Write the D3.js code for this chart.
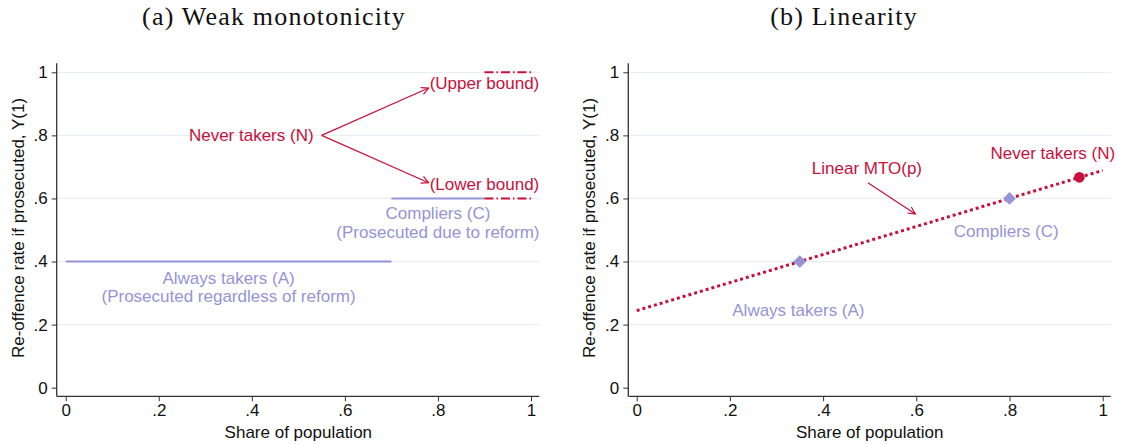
<!DOCTYPE html>
<html>
<head>
<meta charset="utf-8">
<script src="https://cdn.jsdelivr.net/npm/d3@7/dist/d3.min.js"></script>
<style>
  html, body { margin: 0; padding: 0; background: #fff; }
  svg { display: block; }
  text { font-family: "Liberation Sans", Arial, sans-serif; }
  text.title { font-family: "Liberation Serif", "DejaVu Serif", serif; letter-spacing: 1.2px; }
</style>
</head>
<body>
<svg id="chart" width="1122" height="444"></svg>
<script>
// Shared tick values for both panels
const xTicks = [0, 0.2, 0.4, 0.6, 0.8, 1];
const yTicks = [0, 0.2, 0.4, 0.6, 0.8, 1];
const gridTicks = [0.2, 0.4, 0.6, 0.8, 1];

// Panel (a): weak monotonicity — segments [x0, x1, y]
const alwaysSeg = [0, 0.7, 0.4];
const compliersSeg = [0.7, 0.9, 0.6];
const neverUpperSeg = [0.9, 1.0, 1.0];
const neverLowerSeg = [0.9, 1.0, 0.6];
// arrows from the "Never takers" label: [x0, y0, x1, y1]
const arrowUpper = [0.55, 0.8, 0.78, 0.95];
const arrowLower = [0.55, 0.8, 0.78, 0.65];

// Panel (b): linearity
const groupShares = [0.35, 0.8];       // always takers, compliers
const groupRates = [0.4, 0.6];
const neverShare = 0.95;
const neverRate = 0.667;
const mtoLine = [[0, 0.2444], [1, 0.6889]];
const arrowMTO = [0.496, 0.65, 0.598, 0.551];

const RED = "#c8103c";
const LAV = "#9693d8";
const GRID = "#e6eff1";
const FS = 17;

const svg = d3.select("#chart");
const defs = svg.append("defs");
defs.append("marker")
  .attr("id", "arrow")
  .attr("viewBox", "0 0 10 10")
  .attr("refX", 9).attr("refY", 5)
  .attr("markerWidth", 9).attr("markerHeight", 9)
  .attr("markerUnits", "userSpaceOnUse")
  .attr("orient", "auto")
  .append("path")
  .attr("d", "M1,1 L9,5 L1,9")
  .attr("fill", "none")
  .attr("stroke", RED)
  .attr("stroke-width", 1.3);

const fmt = d => d === 0 ? "0" : d === 1 ? "1" : String(d).replace(/^0/, "");

function panel(opt) {
  const g = svg.append("g");
  const x = d3.scaleLinear().domain([0, 1]).range(opt.xRange);
  const y = d3.scaleLinear().domain([0, 1]).range([387.7, 72.3]);

  // gridlines
  g.selectAll(".grid").data(gridTicks).join("line")
    .attr("x1", opt.axisX).attr("x2", opt.rightEdge)
    .attr("y1", d => y(d)).attr("y2", d => y(d))
    .attr("stroke", GRID).attr("stroke-width", 1.2);

  // y axis
  const ya = g.append("g").attr("transform", `translate(${opt.axisX},0)`)
    .call(d3.axisLeft(y).tickValues(yTicks).tickFormat(fmt).tickSize(5).tickPadding(4));
  ya.select(".domain").attr("d", `M0,${63.3}V${396.3}`).attr("stroke", "#333").attr("stroke-width", 1.3);
  ya.selectAll(".tick line").attr("stroke", "#333");
  ya.selectAll(".tick text").style("font-size", FS + "px").attr("fill", "#111");

  // x axis
  const xa = g.append("g").attr("transform", `translate(0,396.3)`)
    .call(d3.axisBottom(x).tickValues(xTicks).tickFormat(fmt).tickSize(5).tickPadding(3));
  xa.select(".domain").attr("d", `M${opt.axisX},0H${opt.rightEdge}`).attr("stroke", "#333").attr("stroke-width", 1.3);
  xa.selectAll(".tick line").attr("stroke", "#333");
  xa.selectAll(".tick text").style("font-size", FS + "px").attr("fill", "#111");

  // axis titles
  g.append("text")
    .attr("transform", `translate(${opt.axisX - 39},${228}) rotate(-90)`)
    .attr("dy", "0.35em")
    .attr("text-anchor", "middle").attr("font-size", FS).attr("fill", "#111")
    .text("Re-offence rate if prosecuted, Y(1)");
  g.append("text")
    .attr("x", (x(0) + x(1)) / 2).attr("y", 431.7).attr("dy", "0.35em")
    .attr("text-anchor", "middle").attr("font-size", FS).attr("fill", "#111")
    .text("Share of population");

  // panel title
  g.append("text")
    .attr("class", "title")
    .attr("x", opt.titleX).attr("y", 24.5)
    .attr("text-anchor", "middle")
    .attr("font-size", 26).attr("fill", "#111")
    .text(opt.title);

  return { g, x, y };
}

// ---------- Panel (a) ----------
{
  const { g, x, y } = panel({ xRange: [65.7, 531], axisX: 56.7, rightEdge: 539.3, titleX: 274, title: "(a) Weak monotonicity" });

  const seg = (s, color, dash) => g.append("line")
    .attr("x1", x(s[0])).attr("x2", x(s[1]))
    .attr("y1", y(s[2])).attr("y2", y(s[2]))
    .attr("stroke", color).attr("stroke-width", 2)
    .attr("stroke-dasharray", dash || null);

  seg(alwaysSeg, LAV);
  seg(compliersSeg, LAV);
  seg(neverUpperSeg, RED, "9,3,1.5,3");
  seg(neverLowerSeg, RED, "9,3,1.5,3");

  [arrowUpper, arrowLower].forEach(a => g.append("line")
    .attr("x1", x(a[0])).attr("y1", y(a[1]))
    .attr("x2", x(a[2])).attr("y2", y(a[3]))
    .attr("stroke", RED).attr("stroke-width", 1.2)
    .attr("marker-end", "url(#arrow)"));

  const label = (tx, ty, txt, color, anchor) => g.append("text")
    .attr("x", tx).attr("y", ty).attr("dy", "0.35em")
    .attr("text-anchor", anchor).attr("font-size", FS).attr("fill", color)
    .text(txt);

  label(x(arrowUpper[0]) - 8, y(0.8), "Never takers (N)", RED, "end");
  label(x(arrowUpper[2]) + 1, y(0.965), "(Upper bound)", RED, "start");
  label(x(arrowLower[2]) + 1, y(0.645), "(Lower bound)", RED, "start");
  label(x(0.80), y(0.553), "Compliers (C)", LAV, "middle");
  label(x(0.80), y(0.495), "(Prosecuted due to reform)", LAV, "middle");
  label(x(0.35), y(0.347), "Always takers (A)", LAV, "middle");
  label(x(0.35), y(0.289), "(Prosecuted regardless of reform)", LAV, "middle");
}

// ---------- Panel (b) ----------
{
  const { g, x, y } = panel({ xRange: [636.7, 1102.7], axisX: 628.3, rightEdge: 1110.7, titleX: 844, title: "(b) Linearity" });

  g.append("path")
    .datum(mtoLine)
    .attr("d", d3.line().x(d => x(d[0])).y(d => y(d[1])))
    .attr("fill", "none").attr("stroke", RED)
    .attr("stroke-width", 3).attr("stroke-dasharray", "3,3");

  g.selectAll(".grp").data(groupShares).join("path")
    .attr("transform", (d, i) => `translate(${x(d)},${y(groupRates[i])}) rotate(45)`)
    .attr("d", d3.symbol().type(d3.symbolSquare).size(82))
    .attr("fill", LAV);

  g.append("circle")
    .attr("cx", x(neverShare)).attr("cy", y(neverRate)).attr("r", 5.3)
    .attr("fill", RED);

  g.append("line")
    .attr("x1", x(arrowMTO[0])).attr("y1", y(arrowMTO[1]))
    .attr("x2", x(arrowMTO[2])).attr("y2", y(arrowMTO[3]))
    .attr("stroke", RED).attr("stroke-width", 1.2)
    .attr("marker-end", "url(#arrow)");

  const label = (tx, ty, txt, color) => g.append("text")
    .attr("x", tx).attr("y", ty).attr("dy", "0.35em")
    .attr("text-anchor", "middle").attr("font-size", FS).attr("fill", color)
    .text(txt);

  label(x(0.494), y(0.698), "Linear MTO(p)", RED);
  label(x(0.893), y(0.745), "Never takers (N)", RED);
  label(x(0.793), y(0.497), "Compliers (C)", LAV);
  label(x(0.347), y(0.247), "Always takers (A)", LAV);
}
</script>
</body>
</html>
